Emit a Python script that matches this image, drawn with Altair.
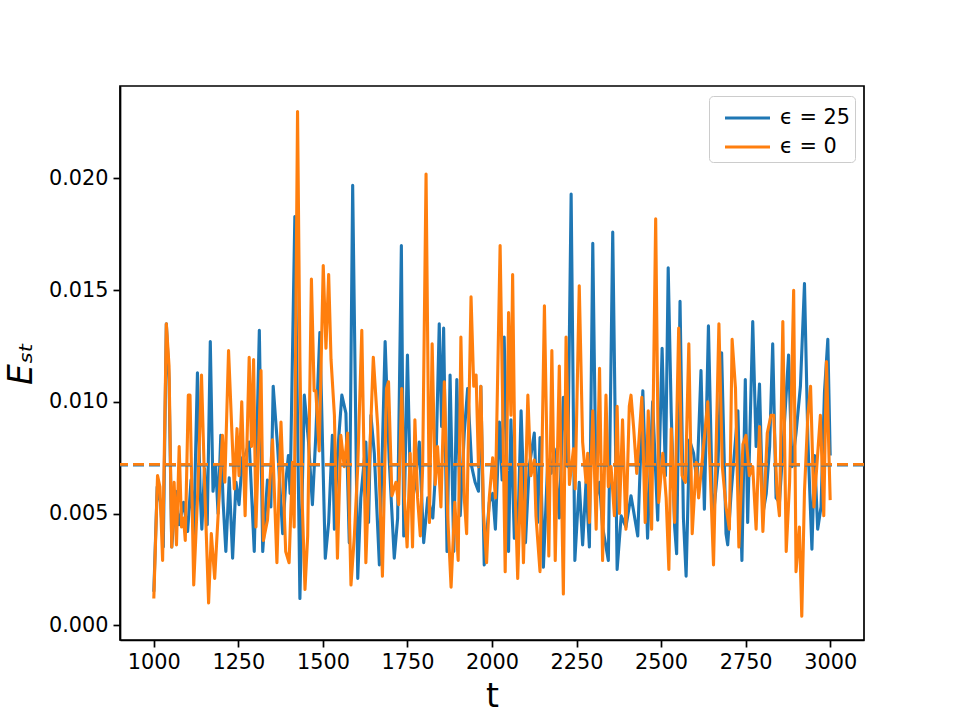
import altair as alt
import pandas as pd

# ---- data ----
t_blue = [1000, 1010, 1020, 1028, 1037, 1045, 1053, 1065, 1075, 1088, 1100, 1110, 1118, 1129, 1137,
          1142, 1150, 1158, 1167, 1175, 1183, 1190, 1198, 1205, 1213, 1223, 1233, 1243, 1252, 1262,
          1272, 1282, 1297, 1312, 1322, 1336, 1346, 1353, 1366, 1381, 1390, 1398, 1403, 1417, 1432,
          1445, 1457, 1469, 1479, 1491, 1507, 1517, 1528, 1534, 1543, 1556, 1568, 1578, 1588, 1603,
          1612, 1627, 1635, 1642, 1652, 1667, 1684, 1696, 1711, 1721, 1732, 1739, 1750, 1760, 1772,
          1785, 1798, 1810, 1825, 1834, 1844, 1851, 1857, 1867, 1876, 1887, 1896, 1906, 1918, 1928,
          1940, 1950, 1960, 1967, 1977, 1992, 2002, 2010, 2022, 2030, 2036, 2049, 2056, 2066, 2076,
          2086, 2099, 2110, 2125, 2135, 2142, 2152, 2165, 2175, 2184, 2199, 2211, 2224, 2234, 2245,
          2258, 2268, 2278, 2288, 2298, 2308, 2318, 2327, 2344, 2357, 2370, 2382, 2396, 2411, 2431,
          2446, 2460, 2475, 2490, 2503, 2513, 2521, 2530, 2540, 2546, 2556, 2566, 2574, 2584, 2596,
          2606, 2618, 2628, 2640, 2653, 2668, 2679, 2692, 2697, 2707, 2727, 2739, 2749, 2756, 2771,
          2781, 2791, 2801, 2811, 2821, 2830, 2840, 2850, 2860, 2877, 2887, 2899, 2912, 2924, 2934,
          2946, 2954, 2963, 2973, 2983, 2993, 3000]
e_blue = [0.0015, 0.0062, 0.0055, 0.0035, 0.0135, 0.0110, 0.0035, 0.0060, 0.0045, 0.0055, 0.0042, 0.0065, 0.0040, 0.0113, 0.0060,
          0.0043, 0.0070, 0.0045, 0.0127, 0.0060, 0.0071, 0.0050, 0.0085, 0.0055, 0.0033, 0.0066, 0.0030, 0.0064, 0.0054, 0.0075,
          0.0077, 0.0082, 0.0033, 0.0132, 0.0033, 0.0065, 0.0053, 0.0107, 0.0080, 0.0041, 0.0064, 0.0076, 0.0059, 0.0183, 0.0012,
          0.0103, 0.0083, 0.0054, 0.0085, 0.0131, 0.0030, 0.0046, 0.0085, 0.0043, 0.0076, 0.0103, 0.0095, 0.0037, 0.0197, 0.0021,
          0.0057, 0.0082, 0.0046, 0.0094, 0.0077, 0.0027, 0.0127, 0.0074, 0.0030, 0.0048, 0.0170, 0.0040, 0.0121, 0.0053, 0.0062,
          0.0082, 0.0037, 0.0057, 0.0048, 0.0071, 0.0135, 0.0089, 0.0133, 0.0033, 0.0112, 0.0033, 0.0110, 0.0049, 0.0086, 0.0106,
          0.0071, 0.0064, 0.0060, 0.0107, 0.0027, 0.0055, 0.0059, 0.0043, 0.0091, 0.0065, 0.0129, 0.0033, 0.0092, 0.0039, 0.0040,
          0.0096, 0.0037, 0.0071, 0.0086, 0.0046, 0.0084, 0.0026, 0.0074, 0.0068, 0.0079, 0.0048, 0.0102, 0.0071, 0.0193, 0.0029,
          0.0064, 0.0036, 0.0064, 0.0035, 0.0171, 0.0057, 0.0064, 0.0044, 0.0029, 0.0176, 0.0025, 0.0049, 0.0044, 0.0058, 0.0040,
          0.0105, 0.0039, 0.0100, 0.0047, 0.0124, 0.0067, 0.0160, 0.0095, 0.0044, 0.0032, 0.0145, 0.0048, 0.0022, 0.0083, 0.0077,
          0.0064, 0.0114, 0.0052, 0.0134, 0.0046, 0.0071, 0.0122, 0.0041, 0.0036, 0.0059, 0.0096, 0.0029, 0.0110, 0.0046, 0.0136,
          0.0080, 0.0108, 0.0050, 0.0059, 0.0080, 0.0126, 0.0057, 0.0055, 0.0079, 0.0121, 0.0071, 0.0086, 0.0107, 0.0153, 0.0083,
          0.0034, 0.0076, 0.0043, 0.0053, 0.0104, 0.0128, 0.0076]

t_orange = [1000, 1011, 1018, 1026, 1037, 1045, 1053, 1060, 1067, 1075, 1082, 1088, 1093, 1102, 1107,
            1118, 1130, 1141, 1150, 1162, 1170, 1180, 1203, 1210, 1221, 1231, 1238, 1246, 1252, 1260,
            1270, 1282, 1289, 1295, 1302, 1317, 1324, 1336, 1351, 1364, 1376, 1390, 1400, 1410, 1415,
            1425, 1432, 1438, 1447, 1455, 1466, 1474, 1479, 1489, 1501, 1509, 1517, 1524, 1534, 1543,
            1553, 1563, 1573, 1583, 1593, 1603, 1615, 1627, 1639, 1649, 1662, 1676, 1688, 1694, 1704,
            1716, 1724, 1733, 1741, 1749, 1758, 1765, 1772, 1780, 1788, 1795, 1805, 1815, 1823, 1832,
            1839, 1849, 1859, 1869, 1879, 1890, 1900, 1908, 1918, 1925, 1938, 1946, 1953, 1960, 1967,
            1975, 1984, 1992, 2002, 2010, 2024, 2032, 2039, 2049, 2056, 2061, 2069, 2076, 2086, 2093,
            2106, 2115, 2125, 2130, 2142, 2155, 2168, 2177, 2187, 2199, 2211, 2219, 2229, 2241, 2246,
            2258, 2268, 2278, 2283, 2288, 2298, 2308, 2318, 2327, 2337, 2344, 2352, 2362, 2370, 2377,
            2386, 2396, 2406, 2411, 2419, 2428, 2443, 2453, 2462, 2472, 2484, 2493, 2505, 2515, 2523,
            2530, 2540, 2552, 2562, 2572, 2582, 2592, 2604, 2611, 2623, 2638, 2655, 2671, 2681, 2692,
            2702, 2710, 2720, 2730, 2742, 2751, 2761, 2771, 2781, 2791, 2801, 2814, 2825, 2833, 2843,
            2850, 2860, 2870, 2880, 2892, 2899, 2909, 2916, 2924, 2934, 2942, 2952, 2971, 2981, 2989,
            3000]
e_orange = [0.0012, 0.0067, 0.0062, 0.0029, 0.0135, 0.0116, 0.0035, 0.0064, 0.0036, 0.0080, 0.0044, 0.0048, 0.0038, 0.0103, 0.0103,
            0.0018, 0.0060, 0.0112, 0.0064, 0.0010, 0.0041, 0.0021, 0.0085, 0.0064, 0.0123, 0.0086, 0.0061, 0.0088, 0.0067, 0.0100,
            0.0049, 0.0120, 0.0080, 0.0119, 0.0044, 0.0114, 0.0038, 0.0047, 0.0083, 0.0028, 0.0091, 0.0033, 0.0028, 0.0073, 0.0044,
            0.0230, 0.0119, 0.0059, 0.0016, 0.0040, 0.0155, 0.0105, 0.0105, 0.0078, 0.0161, 0.0124, 0.0157, 0.0119, 0.0094, 0.0030,
            0.0085, 0.0071, 0.0086, 0.0018, 0.0040, 0.0071, 0.0132, 0.0028, 0.0079, 0.0120, 0.0089, 0.0022, 0.0106, 0.0109, 0.0058,
            0.0064, 0.0054, 0.0106, 0.0057, 0.0035, 0.0077, 0.0035, 0.0092, 0.0057, 0.0040, 0.0071, 0.0202, 0.0046, 0.0126, 0.0063,
            0.0080, 0.0053, 0.0109, 0.0049, 0.0017, 0.0055, 0.0029, 0.0129, 0.0057, 0.0041, 0.0147, 0.0107, 0.0112, 0.0071, 0.0107,
            0.0050, 0.0028, 0.0057, 0.0075, 0.0057, 0.0170, 0.0094, 0.0024, 0.0140, 0.0094, 0.0157, 0.0057, 0.0021, 0.0071, 0.0028,
            0.0103, 0.0067, 0.0074, 0.0049, 0.0024, 0.0143, 0.0031, 0.0123, 0.0029, 0.0116, 0.0014, 0.0129, 0.0063, 0.0079, 0.0061,
            0.0152, 0.0082, 0.0064, 0.0077, 0.0046, 0.0096, 0.0043, 0.0115, 0.0029, 0.0103, 0.0062, 0.0071, 0.0049, 0.0098, 0.0050,
            0.0092, 0.0043, 0.0098, 0.0103, 0.0088, 0.0068, 0.0102, 0.0046, 0.0096, 0.0043, 0.0182, 0.0055, 0.0077, 0.0057, 0.0025,
            0.0088, 0.0046, 0.0133, 0.0067, 0.0064, 0.0126, 0.0041, 0.0073, 0.0057, 0.0076, 0.0100, 0.0027, 0.0135, 0.0071, 0.0053,
            0.0043, 0.0128, 0.0106, 0.0035, 0.0081, 0.0085, 0.0067, 0.0071, 0.0043, 0.0089, 0.0042, 0.0086, 0.0094, 0.0094, 0.0059,
            0.0049, 0.0136, 0.0033, 0.0064, 0.0150, 0.0024, 0.0044, 0.0004, 0.0060, 0.0094, 0.0107, 0.0053, 0.0094, 0.0049, 0.0118,
            0.0056]

series_names = ["ϵ = 25", "ϵ = 0"]
series_colors = ["#1f77b4", "#ff7f0e"]
mean_values = [0.00716, 0.00720]
x_ticks = [1000, 1250, 1500, 1750, 2000, 2250, 2500, 2750, 3000]
y_ticks = [0.0, 0.005, 0.010, 0.015, 0.020]

df_blue = pd.DataFrame({"t": t_blue, "E": e_blue, "series": series_names[0]})
df_orange = pd.DataFrame({"t": t_orange, "E": e_orange, "series": series_names[1]})
df_mean = pd.DataFrame({"E": mean_values, "series": series_names})

FONT = "DejaVu Sans"

color = alt.Color(
    "series:N",
    scale=alt.Scale(domain=series_names, range=series_colors),
    legend=alt.Legend(
        title=None, orient="none", legendX=589, legendY=10,
        symbolType="M-0.4,0H2.6", symbolSize=900, symbolStrokeWidth=3.1,
        symbolFillColor="transparent",
        labelFontSize=20.8, labelFont=FONT, labelColor="black",
        fillColor="white", strokeColor="#cccccc", cornerRadius=4,
        padding=5, rowPadding=2, labelOffset=32,
    ),
)

x_enc = alt.X(
    "t:Q",
    scale=alt.Scale(domain=[900, 3100], nice=False, zero=False),
    axis=alt.Axis(values=x_ticks, title="t", format="d"),
)
y_enc = alt.Y(
    "E:Q",
    scale=alt.Scale(domain=[-0.00066, 0.02414], nice=False, zero=False),
    axis=alt.Axis(values=y_ticks, format=".3f", title="Eₛₜ", titleFontStyle="italic"),
)

line_kw = dict(strokeWidth=3.1, strokeJoin="round", strokeCap="butt", clip=True)
blue = alt.Chart(df_blue).mark_line(**line_kw).encode(x=x_enc, y=y_enc, color=color)
orange = alt.Chart(df_orange).mark_line(**line_kw).encode(x=x_enc, y=y_enc, color=color)
means = alt.Chart(df_mean).mark_rule(strokeWidth=2.6, strokeDash=[11, 5]).encode(y=alt.Y("E:Q"), color=color)

chart = (
    alt.layer(blue, orange, means)
    .properties(
        width=744, height=554,
        autosize=alt.AutoSizeParams(type="none"),
        padding={"left": 120, "top": 86, "right": 96, "bottom": 80},
        background="white",
    )
    .configure(font=FONT)
    .configure_view(stroke="black", strokeWidth=1.7)
    .configure_axis(
        grid=False, domainColor="black", domainWidth=1.7,
        tickColor="black", tickWidth=1.7, tickSize=7,
        labelFontSize=20.8, labelColor="black", labelFont=FONT, labelPadding=5,
        titleFontSize=33, titleFont=FONT, titleFontWeight="normal", titleColor="black",
    )
    .configure_axisX(titlePadding=9, labelFlush=False)
    .configure_axisY(titlePadding=10, labelFlush=False)
)

chart.save("out.html", embed_options={"renderer": "svg", "actions": False})
